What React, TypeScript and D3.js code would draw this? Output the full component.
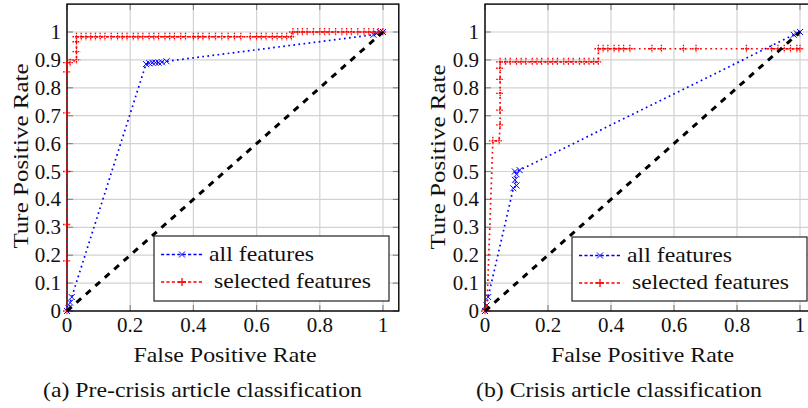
import React from "react";
import * as d3 from "d3";

// ---------- tick data ----------
const xTicks = [0, 0.2, 0.4, 0.6, 0.8, 1];
const xTickLabels = ["0", "0.2", "0.4", "0.6", "0.8", "1"];
const yTicks = [0, 0.1, 0.2, 0.3, 0.4, 0.5, 0.6, 0.7, 0.8, 0.9, 1];
const yTickLabels = ["0", "0.1", "0.2", "0.3", "0.4", "0.5", "0.6", "0.7", "0.8", "0.9", "1"];

const seriesNames = ["all features", "selected features"];
const xTitle = "False Positive Rate";
const yTitle = "Ture Positive Rate";
const captions = ["(a) Pre-crisis article classification", "(b) Crisis article classification"];

// ---------- (a) pre-crisis ----------
const preAllFpr = [0, 0.005, 0.01, 0.015, 0.25, 0.26, 0.27, 0.28, 0.29, 0.3, 0.315, 0.97, 0.98, 0.99, 1.0];
const preAllTpr = [0, 0.01, 0.03, 0.05, 0.885, 0.888, 0.89, 0.89, 0.89, 0.892, 0.895, 0.99, 0.995, 1.0, 1.0];

const preSelFpr = [
  0, 0, 0, 0, 0, 0, 0, 0.01, 0.03, 0.03, 0.03, 0.03,
  0.045, 0.06, 0.075, 0.09, 0.105, 0.12, 0.14, 0.16, 0.175, 0.19, 0.21, 0.225, 0.24, 0.26, 0.275, 0.29,
  0.31, 0.325, 0.34, 0.36, 0.375, 0.4, 0.415, 0.43, 0.45, 0.47, 0.49, 0.51, 0.53, 0.55, 0.58, 0.6,
  0.615, 0.63, 0.65, 0.665, 0.68, 0.695, 0.71,
  0.715, 0.73, 0.745, 0.76, 0.78, 0.8, 0.815, 0.83, 0.85, 0.87, 0.885, 0.9, 0.92, 0.94, 0.955, 0.97, 0.985, 1.0,
];
const preSelTpr = [
  0, 0.18, 0.31, 0.5, 0.71, 0.857, 0.89, 0.89, 0.9, 0.93, 0.965, 0.983,
  0.983, 0.983, 0.983, 0.983, 0.983, 0.983, 0.983, 0.983, 0.983, 0.983, 0.983, 0.983, 0.983, 0.983, 0.983, 0.983,
  0.983, 0.983, 0.983, 0.983, 0.983, 0.983, 0.983, 0.983, 0.983, 0.983, 0.983, 0.983, 0.983, 0.983, 0.983, 0.983,
  0.983, 0.983, 0.983, 0.983, 0.983, 0.983, 0.983,
  1.0, 1.0, 1.0, 1.0, 1.0, 1.0, 1.0, 1.0, 1.0, 1.0, 1.0, 1.0, 1.0, 1.0, 1.0, 1.0, 1.0, 1.0,
];

// ---------- (b) crisis ----------
const crisisAllFpr = [0, 0.005, 0.01, 0.09, 0.1, 0.095, 0.1, 0.095, 0.11, 0.98, 0.99, 1.0];
const crisisAllTpr = [0, 0.02, 0.05, 0.44, 0.45, 0.47, 0.49, 0.5, 0.505, 0.99, 0.995, 1.0];

const crisisSelFpr = [
  0, 0.003, 0.006, 0.025, 0.045, 0.048, 0.048, 0.048, 0.048, 0.048, 0.048,
  0.065, 0.08, 0.1, 0.115, 0.13, 0.15, 0.165, 0.18, 0.2, 0.215, 0.23, 0.25, 0.265, 0.28, 0.3, 0.315, 0.33, 0.345, 0.36,
  0.36, 0.375, 0.39, 0.41, 0.425, 0.44, 0.46, 0.53, 0.56, 0.63, 0.67, 0.83, 0.91, 0.93, 0.95, 0.97, 0.99, 1.0,
];
const crisisSelTpr = [
  0, 0.005, 0.01, 0.61, 0.61, 0.667, 0.72, 0.78, 0.83, 0.87, 0.893,
  0.893, 0.893, 0.893, 0.893, 0.893, 0.893, 0.893, 0.893, 0.893, 0.893, 0.893, 0.893, 0.893, 0.893, 0.893, 0.893, 0.893, 0.893, 0.893,
  0.94, 0.94, 0.94, 0.94, 0.94, 0.94, 0.94, 0.94, 0.94, 0.94, 0.94, 0.94, 0.94, 0.94, 0.94, 0.94, 0.94, 0.94,
];

const diagFpr = [0, 1];
const diagTpr = [0, 1];

const FONT = "Liberation Serif, DejaVu Serif, Times New Roman, serif";
const BLUE = "#0000ff";
const RED = "#ff0000";

type Pt = [number, number];
const zip = (a: number[], b: number[]): Pt[] => a.map((v, i) => [v, b[i]] as Pt);

interface PanelProps {
  left: number;
  unitX: number;
  all: Pt[];
  sel: Pt[];
  legend: { x: number; y: number; w: number; h: number };
  yTitleX: number;
  yTitleY: number;
  caption: string;
  captionX: number;
  captionW: number;
}

function xMark(x: number, y: number, r: number) {
  return `M${x - r},${y - r}L${x + r},${y + r}M${x - r},${y + r}L${x + r},${y - r}`;
}
function plusMark(x: number, y: number, r: number) {
  return `M${x - r},${y}L${x + r},${y}M${x},${y - r}L${x},${y + r}`;
}

const txt = { fontFamily: FONT, fill: "#111" } as React.CSSProperties;

function Panel(p: PanelProps) {
  const bottom = 311;
  const unitY = 279;
  const xs = d3.scaleLinear().domain([0, 1.05]).range([p.left, p.left + 1.05 * p.unitX]);
  const ys = d3.scaleLinear().domain([0, 1.1]).range([bottom, bottom - 1.1 * unitY]);
  const x0 = xs(0), x1 = xs(1.05), y0 = ys(0), y1 = ys(1.1);
  const line = d3.line<Pt>().x((d) => xs(d[0])).y((d) => ys(d[1]));
  const tickLen = 6;
  const lg = p.legend;
  const xMid = (x0 + xs(1)) / 2;
  return (
    <g>
      {/* grid */}
      {xTicks.map((t, i) => (
        <line key={"gx" + i} x1={xs(t)} x2={xs(t)} y1={y0} y2={y1} stroke="#d2d2d2" strokeWidth={1.2} />
      ))}
      {yTicks.map((t, i) => (
        <line key={"gy" + i} x1={x0} x2={x1} y1={ys(t)} y2={ys(t)} stroke="#d2d2d2" strokeWidth={1.2} />
      ))}
      {/* tick stubs */}
      {xTicks.map((t, i) => (
        <g key={"tx" + i} stroke="#8a8a8a" strokeWidth={1.2}>
          <line x1={xs(t)} x2={xs(t)} y1={y0} y2={y0 - tickLen} />
          <line x1={xs(t)} x2={xs(t)} y1={y1} y2={y1 + tickLen} />
        </g>
      ))}
      {yTicks.map((t, i) => (
        <g key={"ty" + i} stroke="#8a8a8a" strokeWidth={1.2}>
          <line x1={x0} x2={x0 + tickLen} y1={ys(t)} y2={ys(t)} />
          <line x1={x1} x2={x1 - tickLen} y1={ys(t)} y2={ys(t)} />
        </g>
      ))}
      {/* frame */}
      <rect x={x0} y={y1} width={x1 - x0} height={y0 - y1} fill="none" stroke="#000" strokeWidth={1.4} />
      {/* tick labels */}
      {xTicks.map((t, i) => (
        <text key={"lx" + i} x={xs(t)} y={332} textAnchor="middle" fontSize={21} style={txt}>
          {xTickLabels[i]}
        </text>
      ))}
      {yTicks.map((t, i) => (
        <text key={"ly" + i} x={x0 - 6} y={ys(t) + 7} textAnchor="end" fontSize={21} style={txt}>
          {yTickLabels[i]}
        </text>
      ))}
      {/* series: all features */}
      <path d={line(p.all) || ""} fill="none" stroke={BLUE} strokeWidth={1.7} strokeDasharray="1.7 3.4" />
      {p.all.map((d, i) => (
        <path key={"ma" + i} d={xMark(xs(d[0]), ys(d[1]), 3)} stroke={BLUE} strokeWidth={1} fill="none" />
      ))}
      {/* series: selected features */}
      <path d={line(p.sel) || ""} fill="none" stroke={RED} strokeWidth={1.7} strokeDasharray="1.7 3.4" />
      {p.sel.map((d, i) => (
        <path key={"ms" + i} d={plusMark(xs(d[0]), ys(d[1]), 4)} stroke={RED} strokeWidth={1.3} fill="none" strokeDasharray="1.6 1" />
      ))}
      {/* diagonal */}
      <path d={line(zip(diagFpr, diagTpr)) || ""} fill="none" stroke="#000" strokeWidth={3} strokeDasharray="6.3 6.3" />
      {/* axis titles */}
      <text x={xMid} y={362} textAnchor="middle" fontSize={21} style={txt} textLength={183} lengthAdjust="spacingAndGlyphs">
        {xTitle}
      </text>
      <text
        x={0}
        y={0}
        transform={`translate(${p.yTitleX},${p.yTitleY}) rotate(-90)`}
        textAnchor="middle"
        fontSize={21}
        style={txt}
        textLength={185}
        lengthAdjust="spacingAndGlyphs"
      >
        {yTitle}
      </text>
      {/* legend */}
      <rect x={lg.x} y={lg.y} width={lg.w} height={lg.h} fill="#fff" stroke="#222" strokeWidth={1.2} />
      <line x1={lg.x + 7} x2={lg.x + 49} y1={lg.y + 18.5} y2={lg.y + 18.5} stroke={BLUE} strokeWidth={1.7} strokeDasharray="3.2 2.2" />
      <path d={xMark(lg.x + 28, lg.y + 18.5, 3)} stroke={BLUE} strokeWidth={1} fill="none" />
      <text x={lg.x + 55} y={lg.y + 24.5} fontSize={21} style={txt} textLength={105} lengthAdjust="spacingAndGlyphs">
        {seriesNames[0]}
      </text>
      <line x1={lg.x + 7} x2={lg.x + 49} y1={lg.y + 46} y2={lg.y + 46} stroke={RED} strokeWidth={1.7} strokeDasharray="3.2 2.2" />
      <path d={plusMark(lg.x + 28, lg.y + 46, 4)} stroke={RED} strokeWidth={1.3} fill="none" />
      <text x={lg.x + 60} y={lg.y + 52} fontSize={21} style={txt} textLength={157} lengthAdjust="spacingAndGlyphs">
        {seriesNames[1]}
      </text>
      {/* caption */}
      <text x={p.captionX} y={397} textAnchor="middle" fontSize={21} style={txt} textLength={p.captionW} lengthAdjust="spacingAndGlyphs">
        {p.caption}
      </text>
    </g>
  );
}

export default function App() {
  return (
    <svg
      width={808}
      height={408}
      viewBox="0 0 808 408"
      style={{ position: "absolute", left: 0, top: 0, background: "#fff" }}
    >
      <rect x={0} y={0} width={808} height={408} fill="#fff" />
      <Panel
        left={67}
        unitX={316}
        all={zip(preAllFpr, preAllTpr)}
        sel={zip(preSelFpr, preSelTpr)}
        legend={{ x: 154, y: 236, w: 235, h: 65 }}
        yTitleX={28}
        yTitleY={156}
        caption={captions[0]}
        captionX={202.5}
        captionW={319}
      />
      <Panel
        left={485}
        unitX={315}
        all={zip(crisisAllFpr, crisisAllTpr)}
        sel={zip(crisisSelFpr, crisisSelTpr)}
        legend={{ x: 572, y: 237, w: 235, h: 64 }}
        yTitleX={445}
        yTitleY={157}
        caption={captions[1]}
        captionX={619}
        captionW={286}
      />
    </svg>
  );
}
